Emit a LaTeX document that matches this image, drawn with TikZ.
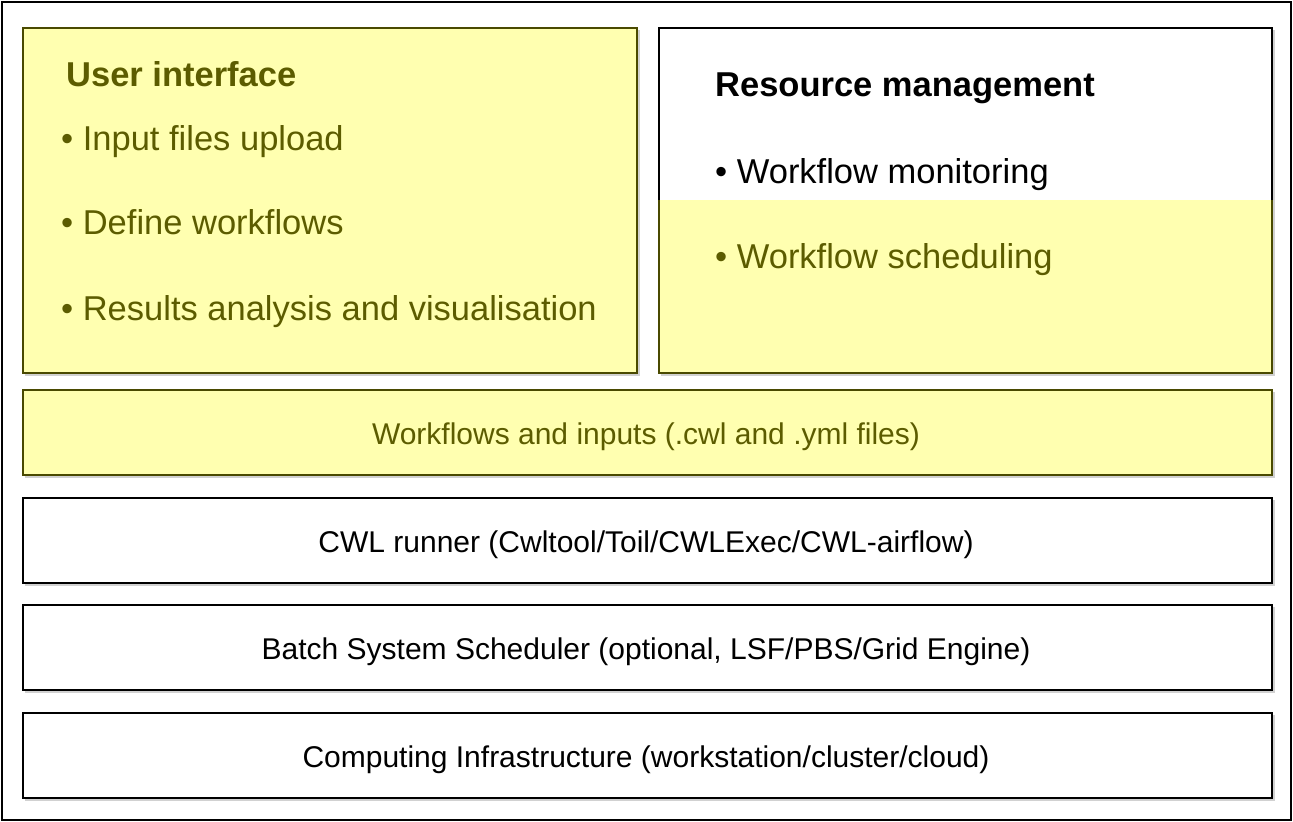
\documentclass[tikz,border=0pt]{standalone}
\usepackage{fontspec}
\setmainfont{Liberation Sans}
\definecolor{noteFill}{HTML}{FFFFB0}
\definecolor{noteLine}{HTML}{4A4A00}
\definecolor{noteText}{HTML}{5C5C00}
\tikzset{
  x=1bp, y=-1bp,
  frame/.style={draw=black, line width=1.5bp},
  whitebox/.style={draw=black, fill=white, line width=2bp, inner sep=0pt},
  yelbox/.style={draw=noteLine, fill=noteFill, line width=2bp, inner sep=0pt},
  bigtxt/.style={font=\fontsize{34.5bp}{40bp}\selectfont, inner sep=0pt, anchor=base west},
  bigbold/.style={font=\fontsize{34.5bp}{40bp}\selectfont\bfseries, inner sep=0pt, anchor=base west},
  smalltxt/.style={font=\fontsize{30bp}{36bp}\selectfont, inner sep=0pt, anchor=base},
}
\begin{document}
\begin{tikzpicture}
\useasboundingbox (0,0) rectangle (1293,822);
\draw[frame] (2,2) rectangle (1291,820);

% shadows
\fill[black!18] (25,30) rectangle (639.5,375.5);
\fill[black!18] (661,30) rectangle (1274.5,375.5);
\fill[black!18] (25,392) rectangle (1274.5,477.5);
\fill[black!18] (25,500) rectangle (1274.5,585.5);
\fill[black!18] (25,607) rectangle (1274.5,692.5);
\fill[black!18] (25,715) rectangle (1274.5,800.5);

% user interface
\node[yelbox, minimum width=614bp, minimum height=345bp] (ui) at (330,200.5) {};
\node[bigbold, text=noteText] (uit) at (66,87) {User interface};
\node[bigtxt, text=noteText] (ui1) at (61,150) {\textbullet\ Input files upload};
\node[bigtxt, text=noteText] (ui2) at (61,234) {\textbullet\ Define workflows};
\node[bigtxt, text=noteText] (ui3) at (61,320) {\textbullet\ Results analysis and visualisation};

% resource management
\node[whitebox, minimum width=613bp, minimum height=345bp] (rm) at (965.5,200.5) {};
\fill[noteFill] (660,200) rectangle (1271,372);
\draw[noteLine, line width=2bp] (659,200) -- (659,373) -- (1272,373) -- (1272,200);
\node[bigbold] (rmt) at (715,97) {Resource management};
\node[bigtxt] (rm1) at (715,183) {\textbullet\ Workflow monitoring};
\node[bigtxt, text=noteText] (rm2) at (715,268) {\textbullet\ Workflow scheduling};

% layers
\node[yelbox, minimum width=1249bp, minimum height=85bp] (wf) at (647.5,432.5) {};
\node[smalltxt, text=noteText] (wft) at (646,444) {Workflows and inputs (.cwl and .yml files)};

\node[whitebox, minimum width=1249bp, minimum height=85bp] (cwl) at (647.5,540.5) {};
\node[smalltxt] (cwlt) at (646,552) {CWL runner (Cwltool/Toil/CWLExec/CWL-airflow)};

\node[whitebox, minimum width=1249bp, minimum height=85bp] (bs) at (647.5,647.5) {};
\node[smalltxt] (bst) at (646,659) {Batch System Scheduler (optional, LSF/PBS/Grid Engine)};

\node[whitebox, minimum width=1249bp, minimum height=85bp] (ci) at (647.5,755.5) {};
\node[smalltxt] (cit) at (646,767) {Computing Infrastructure (workstation/cluster/cloud)};
\end{tikzpicture}
\end{document}
